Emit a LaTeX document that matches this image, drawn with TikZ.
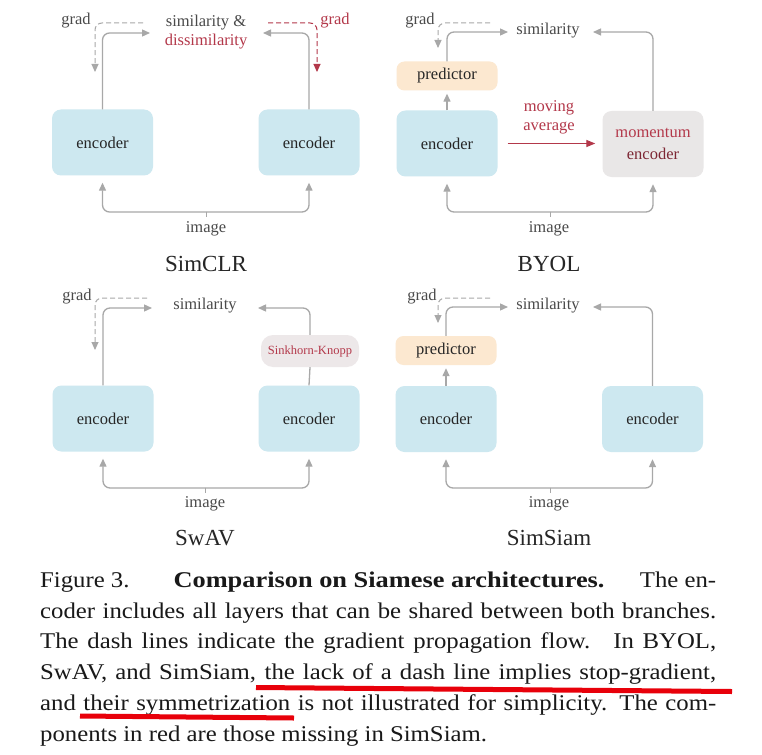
\documentclass[tikz,border=0pt]{standalone}
\usepackage{fontspec}
\setmainfont{Liberation Serif}
\newfontfamily\capfont[FakeStretch=1.10]{Liberation Serif}
\usetikzlibrary{arrows.meta}
\definecolor{encblue}{HTML}{CDE8F0}
\definecolor{predorg}{HTML}{FCE8D0}
\definecolor{momgray}{HTML}{E9E7E7}
\definecolor{skgray}{HTML}{EDE8E9}
\definecolor{arrgray}{HTML}{A8A8A8}
\definecolor{txtred}{HTML}{B3384A}
\definecolor{ulred}{HTML}{E8000A}
\definecolor{txtgray}{HTML}{4A4A4A}
\begin{document}
\begin{tikzpicture}[x=1pt,y=-1pt,
 lbl/.style={font=\fontsize{16.5}{19}\selectfont, text=txtgray, inner sep=0pt},
 redlbl/.style={lbl, text=txtred},
 encbox/.style={fill=encblue, rounded corners=9pt, minimum width=101pt, minimum height=66pt, inner sep=0pt, text=black!85, font=\fontsize{16.5}{22}\selectfont},
 predbox/.style={fill=predorg, rounded corners=8pt, minimum width=101pt, minimum height=29pt, inner sep=0pt, text=black!85, font=\fontsize{16.5}{19}\selectfont},
 skbox/.style={fill=skgray, rounded corners=12pt, minimum width=98pt, minimum height=32pt, inner sep=0pt, text=txtred, font=\fontsize{12.5}{14}\selectfont},
 flow/.style={draw=arrgray, line width=1.3pt, rounded corners=7pt, -{Triangle[length=8pt,width=7pt]}},
 plain/.style={draw=arrgray, line width=1.3pt},
 gradflow/.style={draw=arrgray, line width=1pt, dash pattern=on 5pt off 3pt, rounded corners=7pt, -{Triangle[length=8pt,width=7pt]}},
 redgrad/.style={gradflow, draw=txtred},
 redarrow/.style={draw=txtred, line width=1.3pt, -{Triangle[length=9pt,width=7pt]}},
 ttl/.style={font=\fontsize{23}{26}\selectfont, inner sep=0pt, text=black!85},
 captxt/.style={anchor=base west, inner sep=0pt, text=black!90, font=\capfont\fontsize{22.5}{26}\selectfont},
 uline/.style={draw=ulred, line width=5pt}
]
\useasboundingbox (0,0) rectangle (762,754);
\fill[white] (0,0) rectangle (762,754);

% ---------------- SimCLR ----------------
\node[encbox] (aL) at (102.5,142.5) {encoder};
\node[encbox] (aR) at (309,142.5) {encoder};
\node[lbl, anchor=base] (aSim) at (206,27) {similarity \&};
\node[redlbl, anchor=base] (aDis) at (206,46) {dissimilarity};
\node[lbl] (aG1) at (76,21) {grad};
\node[redlbl] (aG2) at (335,21) {grad};
\coordinate (aSimW) at (150,33);
\coordinate (aSimE) at (263,33);
\draw[flow] (aL.north) |- (aSimW);
\draw[flow] (aR.north) |- (aSimE);
\coordinate (aG1s) at (143,23);
\coordinate (aG1e) at (95,72);
\draw[gradflow] (aG1s) -| (aG1e);
\coordinate (aG2s) at (268,23);
\coordinate (aG2e) at (317,72);
\draw[redgrad] (aG2s) -| (aG2e);
\coordinate (aImg) at (206,212);
\draw[flow, shorten >=7pt] (aImg) -| (aL.south);
\draw[flow, shorten >=7pt] (aImg) -| (aR.south);
\draw[plain, line width=1pt] (aImg) -- ++(0,5);
\node[lbl] (aImgL) at (206,229) {image};
\node[ttl] (aT) at (206,264) {SimCLR};

% ---------------- BYOL ----------------
\node[predbox] (bP) at (447,76) {predictor};
\node[encbox] (bE) at (447,143.5) {encoder};
\node[encbox, fill=momgray, align=center] (bM) at (653,144) {\textcolor{txtred}{momentum}\\\textcolor{txtred!70!black}{encoder}};
\node[lbl] (bSim) at (548,31) {similarity};
\node[lbl] (bG) at (420,21) {grad};
\node[redlbl, align=center, font=\fontsize{16.5}{19}\selectfont] (bMA) at (549,117) {moving\\average};
\coordinate (bSimW) at (508,32);
\coordinate (bSimE) at (593,32);
\draw[flow] (bP.north) |- (bSimW);
\draw[flow] (bM.north) |- (bSimE);
\draw[flow, shorten >=3pt] (bE.north) -- (bP.south);
\coordinate (bGs) at (490,23);
\coordinate (bGe) at (438,48);
\draw[gradflow] (bGs) -| (bGe);
\draw[redarrow, shorten <=10pt, shorten >=7pt] (bE.east) -- (bE.east -| bM.west);
\coordinate (bImg) at (550,212);
\draw[flow, shorten >=7pt] (bImg) -| (bE.south);
\draw[flow, shorten >=7pt] (bImg) -| (bM.south);
\draw[plain, line width=1pt] (bImg) -- ++(0,5);
\node[lbl] (bImgL) at (549,229) {image};
\node[ttl] (bT) at (549,264) {BYOL};

% ---------------- SwAV ----------------
\node[encbox] (cL) at (103,418.5) {encoder};
\node[encbox] (cR) at (309,418.5) {encoder};
\node[skbox] (cS) at (310,351) {Sinkhorn-Knopp};
\node[lbl] (cSim) at (205,306) {similarity};
\node[lbl] (cG) at (77,297) {grad};
\coordinate (cSimW) at (152,308);
\coordinate (cSimE) at (258,308);
\draw[flow] (cL.north) |- (cSimW);
\draw[flow] (cS.north) |- (cSimE);
\draw[plain] (cR.north) -- (cS.south);
\coordinate (cGs) at (147,298);
\coordinate (cGe) at (95,350);
\draw[gradflow] (cGs) -| (cGe);
\coordinate (cImg) at (205,488);
\draw[flow, shorten >=7pt] (cImg) -| (cL.south);
\draw[flow, shorten >=7pt] (cImg) -| (cR.south);
\draw[plain, line width=1pt] (cImg) -- ++(0,5);
\node[lbl] (cImgL) at (205,504) {image};
\node[ttl] (cT) at (205,538) {SwAV};

% ---------------- SimSiam ----------------
\node[predbox] (dP) at (446,350.5) {predictor};
\node[encbox] (dL) at (446,419) {encoder};
\node[encbox] (dR) at (652.5,419) {encoder};
\node[lbl] (dSim) at (548,306) {similarity};
\node[lbl] (dG) at (422,297) {grad};
\coordinate (dSimW) at (508,307);
\coordinate (dSimE) at (593,307);
\draw[flow] (dP.north) |- (dSimW);
\draw[flow] (dR.north) |- (dSimE);
\draw[flow, shorten >=3pt] (dL.north) -- (dP.south);
\coordinate (dGs) at (490,298);
\coordinate (dGe) at (438,323);
\draw[gradflow] (dGs) -| (dGe);
\coordinate (dImg) at (550,488);
\draw[flow, shorten >=7pt] (dImg) -| (dL.south);
\draw[flow, shorten >=7pt] (dImg) -| (dR.south);
\draw[plain, line width=1pt] (dImg) -- ++(0,5);
\node[lbl] (dImgL) at (549,504) {image};
\node[ttl] (dT) at (549,538) {SimSiam};

% ---------------- Caption ----------------
\node[captxt] (c1) at (40,587) {\makebox[676pt][l]{Figure 3.\hspace{44pt}\scalebox{1.065}[1]{\textbf{Comparison on Siamese architectures.}}\hfill The en-}};
\node[captxt] (c2) at (40,618) {\makebox[676pt][s]{coder includes all layers that can be shared between both branches.}};
\node[captxt] (c3) at (40,648.5) {\makebox[676pt][s]{The dash lines indicate the gradient propagation flow.\hspace{0.3em} In BYOL,}};
\node[captxt] (c4) at (40,679) {\makebox[676pt][s]{SwAV, and SimSiam, the lack of a dash line implies stop-gradient,}};
\node[captxt] (c5) at (40,710) {\makebox[676pt][s]{and their symmetrization is not illustrated for simplicity. The com-}};
\node[captxt] (c6) at (40,741) {ponents in red are those missing in SimSiam.};

% red hand-drawn underlines
\draw[uline] (256,687.5) -- (732,691.5);
\draw[uline] (80,716) -- (294,718);
\end{tikzpicture}
\end{document}
